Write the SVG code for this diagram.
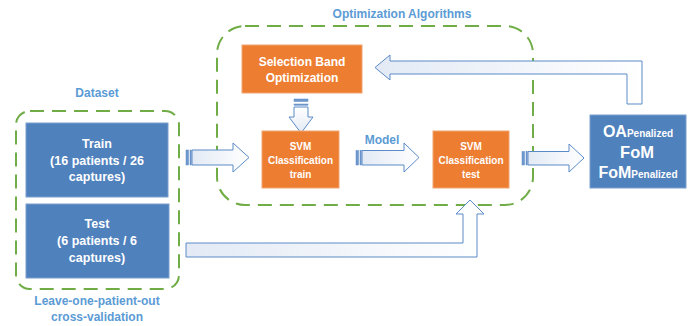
<svg xmlns="http://www.w3.org/2000/svg" width="697" height="326" viewBox="0 0 697 326">
  <defs>
    <linearGradient id="arrowFill" x1="0" y1="0" x2="1" y2="0">
      <stop offset="0" stop-color="#E3EAF5"/>
      <stop offset="1" stop-color="#FFFFFF"/>
    </linearGradient>
    <linearGradient id="arrowFillV" x1="0" y1="1" x2="0" y2="0">
      <stop offset="0" stop-color="#E3EAF5"/>
      <stop offset="1" stop-color="#FFFFFF"/>
    </linearGradient>
  </defs>
  <style>
    .group { fill: none; stroke: #70AD47; stroke-width: 2; stroke-dasharray: 14 8; }
    .blue { fill: #4F81BD; stroke: #7A9FCF; stroke-width: 1; }
    .orange { fill: #ED7D31; stroke: #F2A571; stroke-width: 1; }
    .arrow { fill: url(#arrowFill); stroke: #5B8BC7; stroke-width: 1; stroke-linejoin: miter; }
    .stripe { fill: #6E97CB; stroke: #5B8BC7; stroke-width: 0.5; }
    .t { font-family: "Liberation Sans", Arial, sans-serif; font-weight: bold; fill: #FFFFFF; text-anchor: middle; }
    .lbl { font-family: "Liberation Sans", Arial, sans-serif; font-weight: bold; fill: #5B9BD5; text-anchor: middle; font-size: 12px; }
  </style>

  <!-- dashed grouping frames -->
  <g id="dataset-group">
    <rect class="group" x="16" y="111" width="163" height="178" rx="14"/>
    <text class="lbl" x="97" y="97">Dataset</text>
    <text class="lbl" x="97" y="305">Leave-one-patient-out</text>
    <text class="lbl" x="97" y="321">cross-validation</text>
  </g>
  <g id="optimization-group">
    <rect class="group" x="217" y="26" width="316" height="179" rx="28"/>
    <text class="lbl" x="402" y="18">Optimization Algorithms</text>
  </g>

  <!-- connectors: block arrows -->
  <g id="connectors">
    <!-- Train -> SVM train -->
    <polygon class="arrow" points="192,150 233,150 233,143 249,157.5 233,172 233,165 192,165"/>
    <rect class="stripe" x="186" y="150" width="2.5" height="15"/>
    <rect class="stripe" x="190" y="150" width="1.2" height="15"/>
    <!-- SVM train -> SVM test (Model) -->
    <polygon class="arrow" points="362,150.5 404,150.5 404,143 419,157.5 404,172 404,165 362,165"/>
    <rect class="stripe" x="356" y="150.5" width="2.5" height="14.5"/>
    <rect class="stripe" x="360" y="150.5" width="1.2" height="14.5"/>
    <text class="lbl" x="382" y="144" font-size="13">Model</text>
    <!-- SVM test -> metrics -->
    <polygon class="arrow" points="528,151.5 569,151.5 569,144 584,158 569,172 569,165 528,165"/>
    <rect class="stripe" x="522" y="151.5" width="2.5" height="13.5"/>
    <rect class="stripe" x="526" y="151.5" width="1.2" height="13.5"/>
    <!-- Selection Band Optimization -> SVM train -->
    <polygon class="arrow" style="fill:url(#arrowFillV)" points="294,107 308,107 308,117 313,117 301,133 289,117 294,117"/>
    <rect class="stripe" x="294" y="99" width="14" height="2.5"/>
    <rect class="stripe" x="294" y="104" width="14" height="1.2"/>
    <!-- metrics -> Selection Band Optimization (feedback) -->
    <polygon class="arrow" points="627,104 642,104 642,61 390,61 390,55 375,67.5 390,80 390,74 627,74"/>
    <!-- Test -> SVM test -->
    <polygon class="arrow" points="186,243 463,243 463,214 456,214 470,200 484,214 477,214 477,257 186,257"/>
  </g>

  <!-- nodes -->
  <g id="train">
    <rect class="blue" x="26" y="123" width="142" height="74"/>
    <text class="t" font-size="12.5" x="97" y="147.5">Train</text>
    <text class="t" font-size="12.5" x="97" y="164.5">(16 patients / 26</text>
    <text class="t" font-size="12.5" x="97" y="181">captures)</text>
  </g>
  <g id="test">
    <rect class="blue" x="26" y="204" width="143" height="74"/>
    <text class="t" font-size="12.5" x="97" y="228">Test</text>
    <text class="t" font-size="12.5" x="97" y="245">(6 patients / 6</text>
    <text class="t" font-size="12.5" x="97" y="262">captures)</text>
  </g>
  <g id="selection-band">
    <rect class="orange" x="242" y="45" width="120" height="48"/>
    <text class="t" font-size="12" x="302" y="66">Selection Band</text>
    <text class="t" font-size="12" x="302" y="82">Optimization</text>
  </g>
  <g id="svm-train">
    <rect class="orange" x="262" y="131" width="77" height="57"/>
    <text class="t" font-size="10" x="300.5" y="150">SVM</text>
    <text class="t" font-size="10" x="300.5" y="164">Classification</text>
    <text class="t" font-size="10" x="300.5" y="177.5">train</text>
  </g>
  <g id="svm-test">
    <rect class="orange" x="433" y="131" width="76" height="57"/>
    <text class="t" font-size="10" x="471" y="150">SVM</text>
    <text class="t" font-size="10" x="471" y="164">Classification</text>
    <text class="t" font-size="10" x="471" y="177.5">test</text>
  </g>
  <g id="metrics">
    <rect class="blue" x="590" y="115" width="96" height="73"/>
    <text class="t" x="638" y="137"><tspan font-size="16">OA</tspan><tspan font-size="10">Penalized</tspan></text>
    <text class="t" font-size="16.5" x="637" y="158">FoM</text>
    <text class="t" x="638" y="178"><tspan font-size="16">FoM</tspan><tspan font-size="10">Penalized</tspan></text>
  </g>
</svg>
